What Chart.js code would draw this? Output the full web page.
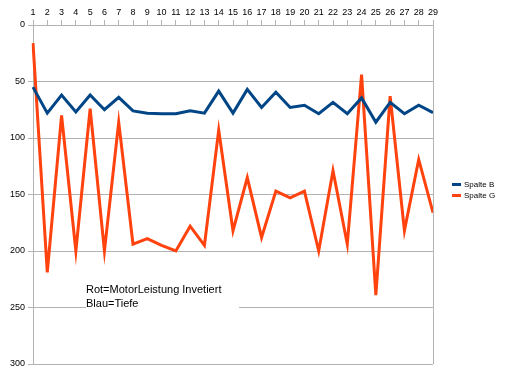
<!DOCTYPE html>
<html>
<head>
<meta charset="utf-8">
<script src="https://cdn.jsdelivr.net/npm/chart.js@4/dist/chart.umd.min.js"></script>
<style>
  html, body { margin: 0; padding: 0; background: #fff; }
  #wrap { width: 512px; height: 384px; }
</style>
</head>
<body>
<div id="wrap"><canvas id="grafico" width="512" height="384"></canvas></div>
<script>
// === DADOS ===
const kategorien = ["1","2","3","4","5","6","7","8","9","10","11","12","13","14","15","16","17","18","19","20","21","22","23","24","25","26","27","28","29"];
const spalteB = [55, 78, 62, 77, 62, 75, 64, 76, 78, 78.5, 78.5, 76, 78, 58.5, 78, 57, 73, 59.5, 73, 71, 78.5, 68.5, 78.5, 64.5, 86, 68.5, 78.5, 71, 77.5];
const spalteG = [16, 219, 80, 200, 74, 200, 86, 194, 189, 195, 200, 178, 195, 93, 182, 135, 188, 147, 153, 147, 200, 129, 194, 44, 239, 63, 182, 119, 166];
const notiz = ["Rot=MotorLeistung Invetiert", "Blau=Tiefe"];

const corB = "#004586";
const corG = "#ff420e";
const cinza = "#b3b3b3";
const fonte = "'Liberation Sans', Arial, sans-serif";

// === PLUGIN: borda direita, legenda e nota ===
const extras = {
  id: "extras",
  afterDraw(chart) {
    const ctx = chart.ctx;
    const a = chart.chartArea;
    ctx.save();
    // borda direita
    ctx.strokeStyle = cinza;
    ctx.lineWidth = 1;
    ctx.beginPath();
    ctx.moveTo(Math.round(a.right) + 0.5, a.top);
    ctx.lineTo(Math.round(a.right) + 0.5, a.bottom);
    ctx.stroke();

    // nota com fundo branco
    ctx.font = "11px " + fonte;
    ctx.fillStyle = "#fff";
    ctx.fillRect(86, 278, 153, 34);
    ctx.fillStyle = "#000";
    ctx.textBaseline = "alphabetic";
    ctx.fillText(notiz[0], 86, 293);
    ctx.fillText(notiz[1], 86, 307);

    // legenda
    ctx.font = "8px " + fonte;
    ctx.textBaseline = "middle";
    chart.data.datasets.forEach((ds, i) => {
      const y = 184.5 + i * 11;
      ctx.strokeStyle = ds.borderColor;
      ctx.lineWidth = 3;
      ctx.beginPath();
      ctx.moveTo(452, y);
      ctx.lineTo(461, y);
      ctx.stroke();
      ctx.fillStyle = "#000";
      ctx.fillText(ds.label, 464, y + 0.5);
    });
    ctx.restore();
  }
};

new Chart(document.getElementById("grafico"), {
  type: "line",
  data: {
    labels: kategorien,
    datasets: [
      { label: "Spalte B", data: spalteB, borderColor: corB, backgroundColor: corB, borderWidth: 3, pointRadius: 0, tension: 0 },
      { label: "Spalte G", data: spalteG, borderColor: corG, backgroundColor: corG, borderWidth: 3, pointRadius: 0, tension: 0 }
    ]
  },
  options: {
    responsive: false,
    animation: false,
    layout: { padding: { left: 0, top: 0, right: 79, bottom: 20 } },
    plugins: { legend: { display: false }, tooltip: { enabled: false } },
    scales: {
      x: {
        position: "top",
        offset: false,
        grid: { drawOnChartArea: false, drawTicks: true, tickLength: 5, color: cinza },
        border: { display: true, color: cinza },
        ticks: { color: "#000", font: { size: 9, family: fonte }, padding: 2, maxRotation: 0, autoSkip: false },
        afterFit: s => { s.height = 25; }
      },
      y: {
        reverse: true,
        min: 0,
        max: 300,
        grid: { color: cinza, tickLength: 5 },
        border: { display: true, color: cinza },
        ticks: { stepSize: 50, color: "#000", font: { size: 9, family: fonte }, padding: 3 },
        afterFit: s => { s.width = 33; }
      }
    }
  },
  plugins: [extras]
});
</script>
</body>
</html>
